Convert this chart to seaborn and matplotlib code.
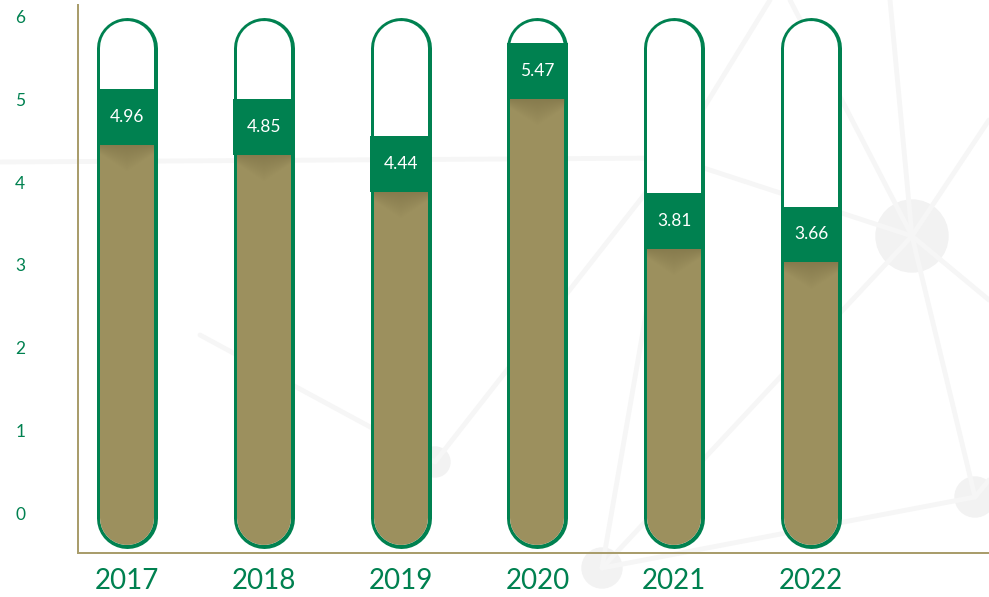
import numpy as np
import matplotlib
matplotlib.use("Agg")
import matplotlib.pyplot as plt
import seaborn as sns
from matplotlib.patches import Circle

# ----------------------------------------------------------
# Data
# ----------------------------------------------------------
years = ["2017", "2018", "2019", "2020", "2021", "2022"]
values = [4.96, 4.85, 4.44, 5.47, 3.81, 3.66]
y_ticks = [0, 1, 2, 3, 4, 5, 6]

# faint network drawn behind the chart (figure pixels, decoration only)
bg_nodes = [(912, 236, 36), (975, 497, 20), (435, 462, 15), (602, 568, 20)]
bg_edges = [
    ((912, 236), (790, 0)), ((912, 236), (890, 0)), ((912, 236), (989, 120)),
    ((912, 236), (989, 300)), ((912, 236), (975, 497)), ((912, 236), (673, 158)),
    ((673, 158), (0, 162)), ((770, 0), (673, 158)), ((673, 158), (435, 462)),
    ((200, 335), (435, 462)), ((912, 236), (602, 568)), ((602, 568), (975, 497)),
    ((602, 568), (673, 158)), ((975, 497), (989, 480)),
]

# ----------------------------------------------------------
# Style
# ----------------------------------------------------------
GREEN = "#008150"
OLIVE = "#9C905E"
AXIS = "#A99D6C"
BGLINE = "#F6F6F6"
BGNODE = "#F2F2F2"

sns.set_theme(style="white")
plt.rcParams["font.family"] = ["Lato", "DejaVu Sans"]

PT = 0.72  # points per pixel at dpi 100
outer_w, inner_w = 61, 54          # pill widths in pixels
px_per_cat = 136.8                  # pixels between bars
cap_low, cap_high = 0.205, 5.41     # centres of the round ends (data units)
box_h = 0.62                        # height of the green value box

fig = plt.figure(figsize=(9.89, 5.97), dpi=100)

# background network
bg = fig.add_axes([0, 0, 1, 1], zorder=0)
bg.set_xlim(0, 989)
bg.set_ylim(597, 0)
bg.axis("off")
for (x0, y0), (x1, y1) in bg_edges:
    bg.plot([x0, x1], [y0, y1], color=BGLINE, lw=3.5, solid_capstyle="round")
for cx, cy, r in bg_nodes:
    bg.add_patch(Circle((cx, cy), r, color=BGNODE))

# main axes
ax = fig.add_axes([78 / 989, 1 - 553 / 597, 1 - 78 / 989, 548 / 597], zorder=1)
ax.patch.set_alpha(0)

x = np.arange(len(years))
vals = np.array(values)

# pill outlines
for i in x:
    ax.plot([i, i], [cap_low, cap_high], color=GREEN, lw=outer_w * PT,
            solid_capstyle="round", zorder=1)
    ax.plot([i, i], [cap_low, cap_high], color="white", lw=inner_w * PT,
            solid_capstyle="round", zorder=1.5)
    ax.plot([i, i], [cap_low, cap_low + 0.5], color=OLIVE, lw=inner_w * PT,
            solid_capstyle="round", zorder=1.8)

# olive fill up to the box
sns.barplot(x=years, y=vals - box_h - cap_low, bottom=cap_low, color=OLIVE,
            saturation=1, width=inner_w / px_per_cat, linewidth=0,
            errorbar=None, ax=ax, zorder=2)

# green value boxes
sns.barplot(x=years, y=np.full(len(vals), box_h), bottom=vals - box_h, color=GREEN,
            saturation=1, width=outer_w / px_per_cat, linewidth=0,
            errorbar=None, ax=ax, zorder=3)

# soft shadow under each box
gx = np.linspace(-1, 1, 60)
gy = np.linspace(0, 1, 40)[:, None]
depth = 0.35 + 0.65 * (1 - np.abs(gx))[None, :]
alpha = 0.45 * np.clip(1 - gy / depth, 0, 1)
shade = np.zeros((40, 60, 4))
shade[..., 0] = 0.42
shade[..., 1] = 0.38
shade[..., 2] = 0.22
shade[..., 3] = alpha
half = inner_w / px_per_cat / 2
for i, v in zip(x, vals):
    top = v - box_h
    ax.imshow(shade, extent=[i - half, i + half, top - 0.3, top],
              aspect="auto", zorder=2.5, interpolation="bilinear")

for i, v in zip(x, vals):
    ax.text(i, v - box_h / 2, f"{v:.2f}", color="white", fontsize=12.5,
            ha="center", va="center", zorder=4)

ax.set_xlim(-(127 - 78) / px_per_cat, (989 - 127) / px_per_cat)
ax.set_ylim((537 - 553) / 90.3, (537 - 5) / 90.3)
ax.set_xticks(x)
ax.set_xticklabels(years, fontsize=20, color=GREEN)
ax.set_yticks([])
ax.set_xlabel("")
ax.set_ylabel("")
ax.tick_params(axis="x", length=0, pad=11)
for side in ["top", "right"]:
    ax.spines[side].set_visible(False)
for side in ["left", "bottom"]:
    ax.spines[side].set_color(AXIS)
    ax.spines[side].set_linewidth(2 * PT)

# tick scale on the left (its own scale, as in the source chart)
tick_ax = ax.twinx()
tick_ax.set_ylim((513 - 553) / 82.67, (513 - 5) / 82.67)
tick_ax.yaxis.tick_left()
tick_ax.set_yticks(y_ticks)
tick_ax.set_yticklabels([str(t) for t in y_ticks], fontsize=12.5, color=GREEN)
tick_ax.tick_params(axis="y", length=0, pad=38)
for side in tick_ax.spines:
    tick_ax.spines[side].set_visible(False)

fig.savefig("out.png", dpi=100)
